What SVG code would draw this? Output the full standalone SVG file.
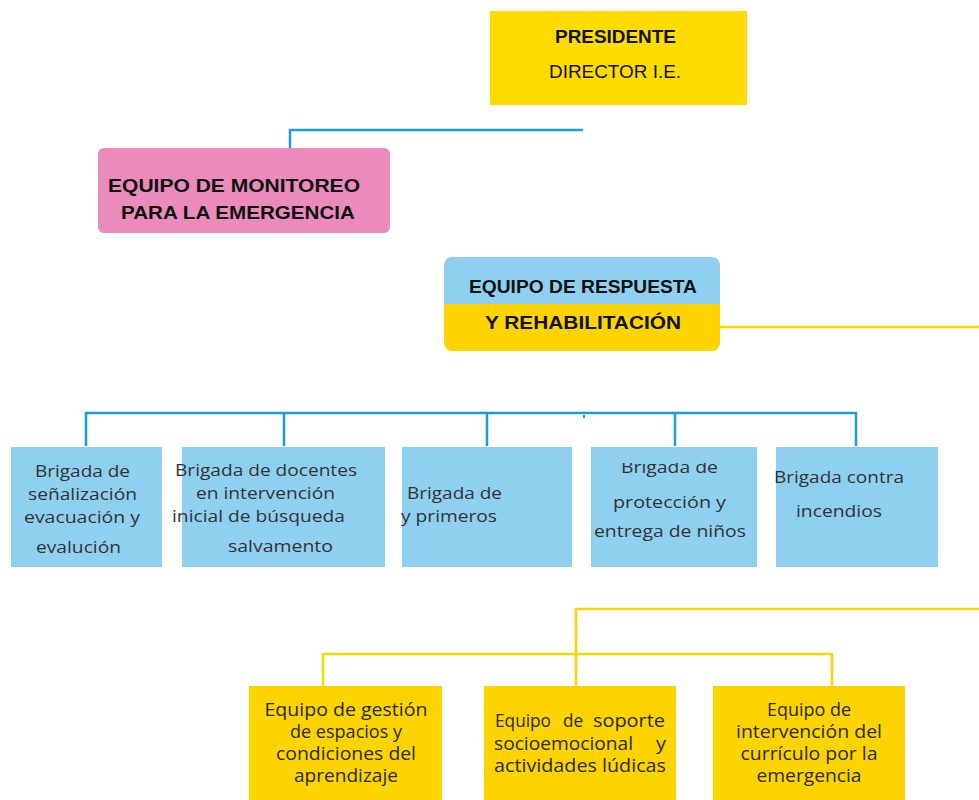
<svg xmlns="http://www.w3.org/2000/svg" width="979" height="800" viewBox="0 0 979 800">
<style>
.bl{fill:none;stroke:#1A9ED8;stroke-width:2.5}
.yl{fill:none;stroke:#FDD600;stroke-width:2.5}
.bbox{fill:#8FD0F0}
.ybox{fill:#FDD400}
.h{font-family:"Liberation Sans",Arial,sans-serif;font-weight:bold;fill:#111;font-size:19px}
.t{font-family:"Open Sans","Liberation Sans",sans-serif;font-size:17px;fill:#333}
.y{font-family:"Open Sans","Liberation Sans",sans-serif;font-size:17.5px;fill:#2a2a10}
</style>
<defs>
<clipPath id="rr"><rect x="444" y="257" width="276" height="94" rx="8"/></clipPath>
<clipPath id="c4"><rect x="591" y="463" width="166" height="104"/></clipPath>
</defs>
<g id="connectors">
<path class="bl" d="M583 130 H290 V148"/>
<path class="yl" d="M720 327 H979"/>
<path class="bl" d="M86 446 V413 H856 V446 M284 413 V446 M487 413 V446 M675 413 V446"/>
<rect x="583" y="415" width="2" height="3" fill="#1A9ED8"/>
<path class="yl" d="M979 609 H576 V686 M323 686 V654 H832 V686"/>
</g>
<g id="presidente">
<rect x="490" y="11" width="257" height="94" fill="#FEDC00"/>
<text class="h" x="615.5" y="43" text-anchor="middle" font-size="18" textLength="121" lengthAdjust="spacingAndGlyphs">PRESIDENTE</text>
<text x="615" y="78" text-anchor="middle" font-family="Liberation Sans,Arial,sans-serif" font-size="19" fill="#111" textLength="132" lengthAdjust="spacingAndGlyphs">DIRECTOR I.E.</text>
</g>
<g id="monitoreo">
<rect x="98" y="148" width="292" height="85" rx="6" fill="#EB8BBB"/>
<text class="h" x="108" y="192" textLength="252" lengthAdjust="spacingAndGlyphs">EQUIPO DE MONITOREO</text>
<text class="h" x="121" y="219" textLength="234" lengthAdjust="spacingAndGlyphs">PARA LA EMERGENCIA</text>
</g>
<g id="respuesta">
<g clip-path="url(#rr)">
<rect x="444" y="257" width="276" height="47" fill="#8FD0F0"/>
<rect x="444" y="304" width="276" height="47" fill="#FDD400"/>
</g>
<text class="h" x="469" y="293" textLength="228" lengthAdjust="spacingAndGlyphs">EQUIPO DE RESPUESTA</text>
<text class="h" x="485" y="329" textLength="196" lengthAdjust="spacingAndGlyphs">Y REHABILITACIÓN</text>
</g>
<g id="brigada1">
<rect class="bbox" x="11" y="447" width="151" height="120"/>
<text class="t" x="35" y="477" textLength="95" lengthAdjust="spacingAndGlyphs">Brigada de</text>
<text class="t" x="28" y="500" textLength="109" lengthAdjust="spacingAndGlyphs">señalización</text>
<text class="t" x="24" y="523" textLength="116" lengthAdjust="spacingAndGlyphs">evacuación y</text>
<text class="t" x="36" y="553" textLength="85" lengthAdjust="spacingAndGlyphs">evalución</text>
</g>
<g id="brigada2">
<rect class="bbox" x="182" y="447" width="203" height="120"/>
<text class="t" x="175" y="476" textLength="182" lengthAdjust="spacingAndGlyphs">Brigada de docentes</text>
<text class="t" x="196" y="499" textLength="139" lengthAdjust="spacingAndGlyphs">en intervención</text>
<text class="t" x="172" y="522" textLength="173" lengthAdjust="spacingAndGlyphs">inicial de búsqueda</text>
<text class="t" x="228" y="552" textLength="105" lengthAdjust="spacingAndGlyphs">salvamento</text>
</g>
<g id="brigada3">
<rect class="bbox" x="402" y="447" width="170" height="120"/>
<text class="t" x="407" y="499" textLength="95" lengthAdjust="spacingAndGlyphs">Brigada de</text>
<text class="t" x="401" y="522" textLength="96" lengthAdjust="spacingAndGlyphs">y primeros</text>
</g>
<g id="brigada4">
<rect class="bbox" x="591" y="447" width="166" height="120"/>
<text class="t" x="621" y="473" textLength="97" lengthAdjust="spacingAndGlyphs" clip-path="url(#c4)">Brigada de</text>
<text class="t" x="613" y="508" textLength="113" lengthAdjust="spacingAndGlyphs">protección y</text>
<text class="t" x="594" y="537" textLength="152" lengthAdjust="spacingAndGlyphs">entrega de niños</text>
</g>
<g id="brigada5">
<rect class="bbox" x="776" y="447" width="162" height="120"/>
<text class="t" x="774" y="483" textLength="130" lengthAdjust="spacingAndGlyphs">Brigada contra</text>
<text class="t" x="796" y="517" textLength="86" lengthAdjust="spacingAndGlyphs">incendios</text>
</g>
<g id="equipo1">
<rect class="ybox" x="249" y="686" width="193" height="114"/>
<text class="y" x="346" y="716" text-anchor="middle" textLength="163" lengthAdjust="spacingAndGlyphs">Equipo de gestión</text>
<text class="y" x="346" y="738" text-anchor="middle" textLength="112" lengthAdjust="spacingAndGlyphs">de espacios y</text>
<text class="y" x="346" y="760" text-anchor="middle" textLength="140" lengthAdjust="spacingAndGlyphs">condiciones del</text>
<text class="y" x="346" y="782" text-anchor="middle" textLength="104" lengthAdjust="spacingAndGlyphs">aprendizaje</text>
</g>
<g id="equipo2">
<rect class="ybox" x="484" y="686" width="192" height="114"/>
<text class="y" x="495" y="727" textLength="56" lengthAdjust="spacingAndGlyphs">Equipo</text>
<text class="y" x="563" y="727" textLength="20" lengthAdjust="spacingAndGlyphs">de</text>
<text class="y" x="593" y="727" textLength="72" lengthAdjust="spacingAndGlyphs">soporte</text>
<text class="y" x="494" y="750" textLength="139" lengthAdjust="spacingAndGlyphs">socioemocional</text>
<text class="y" x="656" y="750" textLength="10" lengthAdjust="spacingAndGlyphs">y</text>
<text class="y" x="494" y="772" textLength="172" lengthAdjust="spacingAndGlyphs">actividades lúdicas</text>
</g>
<g id="equipo3">
<rect class="ybox" x="713" y="686" width="192" height="114"/>
<text class="y" x="809" y="716" text-anchor="middle" textLength="84" lengthAdjust="spacingAndGlyphs">Equipo de</text>
<text class="y" x="809" y="738" text-anchor="middle" textLength="146" lengthAdjust="spacingAndGlyphs">intervención del</text>
<text class="y" x="809" y="760" text-anchor="middle" textLength="137" lengthAdjust="spacingAndGlyphs">currículo por la</text>
<text class="y" x="809" y="782" text-anchor="middle" textLength="105" lengthAdjust="spacingAndGlyphs">emergencia</text>
</g>
</svg>
